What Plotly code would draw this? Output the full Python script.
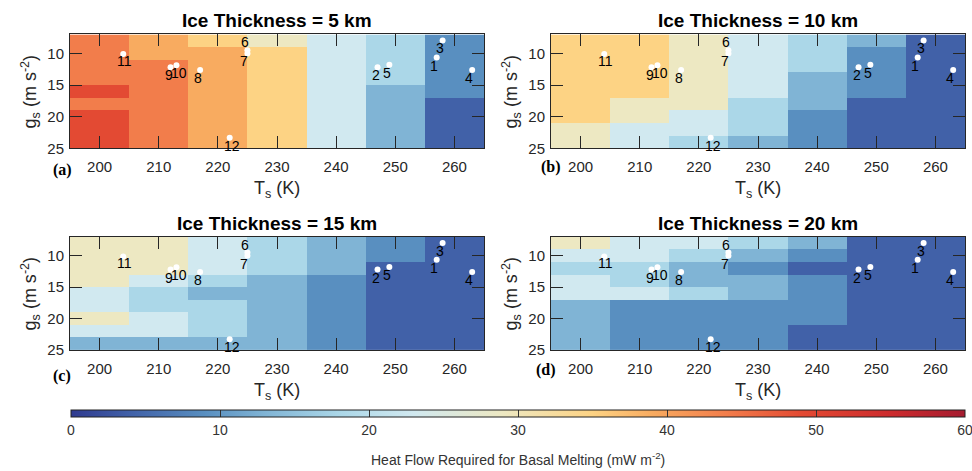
import plotly.graph_objects as go

# ---------------- data ----------------
TS = [200, 210, 220, 230, 240, 250, 260]          # surface temperature (K), cell centres
GS = [8, 10, 12, 14, 16, 18, 20, 22, 24]          # surface gravity (m s^-2), cell centres
THICKNESS_KM = [5, 10, 15, 20]
PANEL_TAGS = ["(a)", "(b)", "(c)", "(d)"]

# heat flow required for basal melting (mW m^-2); rows follow GS, columns follow TS
Q_5KM = [
    [44, 39, 35, 29, 23, 18, 9],
    [44, 39, 39, 35, 23, 18, 9],
    [44, 44, 39, 35, 23, 18, 9],
    [44, 44, 39, 35, 23, 18, 9],
    [49, 44, 39, 35, 23, 13, 9],
    [44, 44, 39, 35, 23, 13, 4],
    [49, 44, 39, 35, 23, 13, 4],
    [49, 44, 39, 35, 23, 13, 4],
    [49, 44, 39, 35, 23, 13, 4],
]
Q_10KM = [
    [35, 35, 29, 23, 18, 13, 4],
    [35, 35, 29, 23, 18, 9, 4],
    [35, 35, 29, 23, 18, 9, 4],
    [35, 35, 29, 23, 13, 9, 4],
    [35, 35, 29, 23, 13, 9, 4],
    [35, 29, 29, 18, 13, 4, 4],
    [35, 29, 23, 18, 9, 4, 4],
    [29, 23, 23, 18, 9, 4, 4],
    [29, 23, 18, 13, 9, 4, 4],
]
Q_15KM = [
    [29, 29, 23, 18, 13, 9, 4],
    [29, 29, 23, 18, 13, 9, 4],
    [29, 29, 23, 18, 13, 4, 4],
    [29, 23, 18, 13, 9, 4, 4],
    [23, 18, 13, 13, 9, 4, 4],
    [23, 18, 18, 13, 9, 4, 4],
    [29, 23, 18, 13, 9, 4, 4],
    [23, 23, 18, 13, 9, 4, 4],
    [13, 13, 13, 13, 9, 4, 4],
]
Q_20KM = [
    [29, 23, 23, 18, 13, 4, 4],
    [23, 23, 18, 13, 9, 4, 4],
    [18, 18, 13, 9, 4, 4, 4],
    [23, 18, 13, 13, 9, 4, 4],
    [23, 23, 18, 13, 9, 4, 4],
    [13, 9, 9, 9, 9, 4, 4],
    [13, 9, 9, 9, 9, 4, 4],
    [13, 9, 9, 9, 4, 4, 4],
    [13, 9, 9, 9, 4, 4, 4],
]
Q_PANELS = [Q_5KM, Q_10KM, Q_15KM, Q_20KM]

SITE_IDS = ["1", "2", "3", "4", "5", "6", "7", "8", "9", "10", "11", "12"]
SITE_TS = [257, 247, 258, 263, 249, 225, 225, 217, 212, 213, 204, 222]
SITE_GS = [10.65, 12.2, 7.95, 12.6, 11.8, 9.5, 10.0, 12.6, 12.2, 11.85, 10.1, 23.3]

CBAR_TICKS = [0, 10, 20, 30, 40, 50, 60]

# ---------------- styles ----------------
W, H = 972, 471
# label offsets (px) relative to each site dot
LABEL_DX = [-3, -2, -3, -3, -2, -2, -3, -2, -2, 3, 1, 2]
LABEL_DY = [-8, -8, -8, -8, -8, 8, -8, -8, -8, -8, -7, -8]

CSTOPS = [
    (0, "#2f3a8f"), (4, "#4161a8"), (9, "#598fc0"), (13, "#80b4d5"),
    (18, "#abd7e8"), (23, "#d1e9f0"), (29, "#ede8c2"), (35, "#fdd384"),
    (39, "#f8ab60"), (44, "#f27d4b"), (49, "#e34a33"), (55, "#cc2b2d"),
    (60, "#a51c30"),
]
colorscale = [[v / 60.0, c] for v, c in CSTOPS]

# panel pixel boxes: (left, right, top, bottom)
BOXES = [(70, 484, 35, 151), (551, 965, 35, 151), (70, 484, 241, 356), (551, 965, 241, 356)]
TAG_POS = [(62, 173), (551, 170), (62, 383), (546, 376)]

SANS = "Liberation Sans, Arial, sans-serif"
NARROW = "Liberation Sans Narrow, Liberation Sans, Arial, sans-serif"
SERIF = "Liberation Serif, Times New Roman, serif"
AXC = "#262626"


def paper_note(px, py, text, font, **kw):
    return dict(x=px / W, y=1 - py / H, xref="paper", yref="paper", text=text,
                showarrow=False, xanchor="center", yanchor="middle", font=font, **kw)


fig = go.Figure()
annotations = []

for i, (q, box) in enumerate(zip(Q_PANELS, BOXES)):
    l, r, t, b = box
    n = "" if i == 0 else str(i + 1)
    xa, ya = "x" + n, "y" + n
    fig.add_trace(go.Heatmap(x=TS, y=GS, z=q, coloraxis="coloraxis",
                             xaxis=xa, yaxis=ya))
    fig.add_trace(go.Scatter(x=SITE_TS, y=SITE_GS, mode="markers", xaxis=xa, yaxis=ya,
                             marker=dict(color="white", size=6, line=dict(width=0)),
                             showlegend=False, hoverinfo="skip"))
    axis_common = dict(showline=True, linecolor=AXC, linewidth=1, mirror="ticks",
                       ticks="inside", ticklen=12, tickwidth=1.3, tickcolor=AXC,
                       showgrid=False, zeroline=False,
                       tickfont=dict(family=SANS, size=15, color=AXC))
    fig.update_layout(**{
        ("xaxis" + n): dict(domain=[l / W, r / W], range=[195, 265], tickvals=TS,
                            anchor=ya, ticklabelstandoff=5, **axis_common),
        ("yaxis" + n): dict(domain=[1 - b / H, 1 - t / H], range=[25, 7],
                            tickvals=[10, 15, 20, 25], anchor=xa, ticklabelstandoff=2,
                            **axis_common),
    })
    # site labels
    for sid, sx, sy, dx, dy in zip(SITE_IDS, SITE_TS, SITE_GS, LABEL_DX, LABEL_DY):
        annotations.append(dict(x=sx, y=sy, xref=xa, yref=ya, text=sid, showarrow=False,
                                xanchor="center", yanchor="middle", xshift=dx, yshift=dy,
                                font=dict(family=SANS, size=14, color="black")))
    cx = (l + r) / 2
    annotations.append(paper_note(cx, t - 14, "<b>Ice Thickness = %d km</b>" % THICKNESS_KM[i],
                                  dict(family=SANS, size=19, color="black")))
    annotations.append(paper_note(cx, b + 42, "T<sub>s</sub> (K)",
                                  dict(family=SANS, size=18, color=AXC)))
    annotations.append(paper_note(l - 40, (t + b) / 2, "g<sub>s</sub> (m s<sup>-2</sup>)",
                                  dict(family=SANS, size=18, color=AXC), textangle=-90))
    tx, ty = TAG_POS[i]
    annotations.append(paper_note(tx, ty, "<b>%s</b>" % PANEL_TAGS[i],
                                  dict(family=SERIF, size=16, color="black")))

annotations.append(paper_note((71 + 965) / 2, 467,
                              "Heat Flow Required for Basal Melting (mW m<sup>-2</sup>)",
                              dict(family=NARROW, size=14, color="#333333")))

fig.update_layout(
    width=W, height=H, margin=dict(l=0, r=0, t=0, b=0),
    paper_bgcolor="white", plot_bgcolor="white", showlegend=False,
    coloraxis=dict(
        cmin=0, cmax=60, colorscale=colorscale,
        colorbar=dict(orientation="h", x=(71 + 965) / 2 / W, xanchor="center",
                      y=1 - 417 / H, yanchor="top", len=(965 - 71) / W, lenmode="fraction",
                      thickness=7, thicknessmode="pixels", xpad=0, ypad=0,
                      outlinewidth=1, outlinecolor="#222222",
                      tickvals=CBAR_TICKS, ticks="inside", ticklen=7, tickcolor="#333333",
                      ticklabeloverflow="allow",
                      tickfont=dict(family=NARROW, size=14, color="#333333")),
    ),
    annotations=annotations,
)

fig.write_html("out.html")
